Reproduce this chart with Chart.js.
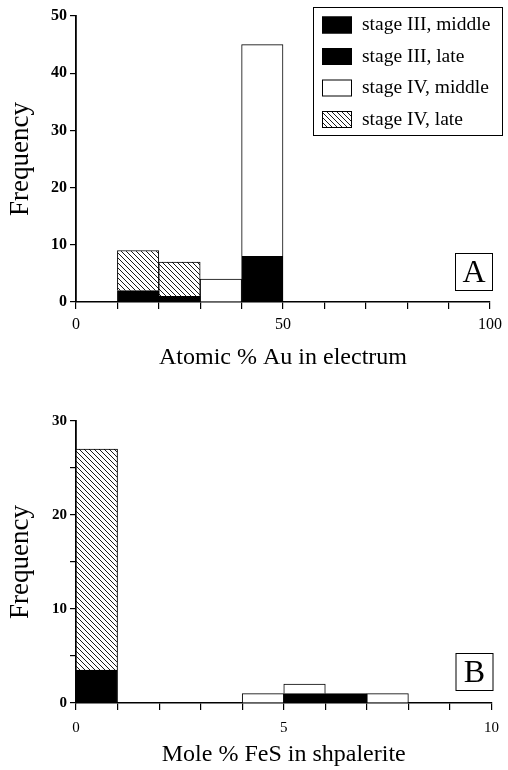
<!DOCTYPE html>
<html>
<head>
<meta charset="utf-8">
<script src="https://cdn.jsdelivr.net/npm/chart.js@4.4.1/dist/chart.umd.min.js"></script>
<style>
  html, body { margin: 0; padding: 0; background: #fff; }
  .panel { position: absolute; left: 0; width: 508px; height: 385px; }
  #panelA { top: 0; }
  #panelB { top: 385px; }
</style>
</head>
<body>
<div class="panel" id="panelA"><canvas id="chartA"></canvas></div>
<div class="panel" id="panelB"><canvas id="chartB"></canvas></div>
<script>
// Electrum: bin centres (10 at.% bins) and counts per stage
const auBins = [15, 25, 35, 45];
const auStage3Middle = [0, 0, 0, 8];
const auStage3Late = [2, 1, 0, 0];
const auStage4Middle = [0, 0, 4, 37];
const auStage4Late = [7, 6, 0, 0];

// Sphalerite: bin centres (1 mol.% bins) and counts per stage
const fesBins = [0.5, 4.5, 5.5, 6.5, 7.5];
const fesStage3Middle = [0, 0, 1, 1, 0];
const fesStage3Late = [3.5, 0, 0, 0, 0];
const fesStage4Middle = [0, 1, 1, 0, 1];
const fesStage4Late = [23.5, 0, 0, 0, 0];

const seriesLabels = ['stage III, middle', 'stage III, late', 'stage IV, middle', 'stage IV, late'];
const auTickLabels = [0, 50, 100];
const fesTickLabels = [0, 5, 10];
const auFreqLabels = [0, 10, 20, 30, 40, 50];
const fesFreqLabels = [0, 10, 20, 30];

Chart.defaults.font.family = '"Liberation Serif", "Times New Roman", serif';
Chart.defaults.color = '#000';

// diagonal hatch used for stage IV, late
function makeHatch() {
    const c = document.createElement('canvas');
    c.width = 5; c.height = 5;
    const g = c.getContext('2d');
    g.fillStyle = '#fff';
    g.fillRect(0, 0, 5, 5);
    g.strokeStyle = '#000';
    g.lineWidth = 0.9;
    g.beginPath();
    g.moveTo(-1, -1); g.lineTo(6, 6);
    g.moveTo(-1, 4); g.lineTo(1, 6);
    g.moveTo(4, -1); g.lineTo(6, 1);
    g.stroke();
    return g.createPattern(c, 'repeat');
}
const hatch = makeHatch();
const fills = ['#000', '#000', '#fff', hatch];

function toPoints(bins, values) {
    return bins.map((x, i) => ({ x: x, y: values[i] === 0 ? null : values[i] }));
}

function buildDatasets(bins, series) {
    return series.map((values, i) => ({
        label: seriesLabels[i],
        data: toPoints(bins, values),
        backgroundColor: fills[i],
        borderColor: '#000',
        borderWidth: 1,
        barPercentage: 1,
        categoryPercentage: 1
    }));
}

// boxed legend inside the plot
const boxLegend = {
    id: 'boxLegend',
    afterDatasetsDraw(chart, args, opts) {
        if (!opts.show) return;
        const ctx = chart.ctx;
        ctx.save();
        ctx.lineWidth = 1;
        ctx.strokeStyle = '#000';
        ctx.strokeRect(opts.left + 0.5, opts.top + 0.5, opts.width, opts.height);
        ctx.font = '19.5px "Liberation Serif"';
        ctx.textBaseline = 'middle';
        ctx.fillStyle = '#000';
        chart.data.datasets.forEach((ds, i) => {
            const y = opts.top + opts.firstRow + i * opts.rowGap;
            ctx.fillStyle = ds.backgroundColor;
            ctx.fillRect(opts.left + 9, y - 8.5, 30, 17);
            ctx.strokeRect(opts.left + 9.5, y - 8, 29, 16);
            ctx.fillStyle = '#000';
            ctx.fillText(ds.label, opts.left + 49, y);
        });
        ctx.restore();
    }
};

// boxed panel letter in the lower right corner
const panelTag = {
    id: 'panelTag',
    afterDatasetsDraw(chart, args, opts) {
        const a = chart.chartArea;
        const x = a.right + opts.dx - opts.size;
        const y = a.bottom + opts.dy - opts.size;
        const ctx = chart.ctx;
        ctx.save();
        ctx.fillStyle = '#fff';
        ctx.fillRect(x, y, opts.size, opts.size);
        ctx.strokeStyle = '#000';
        ctx.lineWidth = 1;
        ctx.strokeRect(x + 0.5, y + 0.5, opts.size, opts.size);
        ctx.fillStyle = '#000';
        ctx.font = '32px "Liberation Serif"';
        ctx.textAlign = 'center';
        ctx.textBaseline = 'middle';
        ctx.fillText(opts.text, x + opts.size / 2 + 0.5, y + opts.size / 2 + 2);
        ctx.restore();
    }
};

function makeChart(id, cfg) {
    return new Chart(document.getElementById(id), {
        type: 'bar',
        data: { datasets: cfg.datasets },
        plugins: [boxLegend, panelTag],
        options: {
            responsive: true,
            maintainAspectRatio: false,
            animation: false,
            layout: { padding: { top: cfg.top, right: 12, left: 0, bottom: 0 } },
            plugins: {
                legend: { display: false },
                tooltip: { enabled: false },
                boxLegend: cfg.legend,
                panelTag: cfg.tag
            },
            scales: {
                x: {
                    type: 'linear',
                    stacked: true,
                    offset: false,
                    min: 0,
                    max: cfg.xMax,
                    afterFit(scale) { scale.height = cfg.xHeight; },
                    grid: { offset: false, drawOnChartArea: false, drawTicks: true, tickLength: 7, color: '#000', lineWidth: 1.2 },
                    border: { display: true, color: '#000', width: 1.6 },
                    ticks: {
                        stepSize: cfg.xStep,
                        maxRotation: 0,
                        autoSkip: false,
                        padding: cfg.xPad,
                        font: { size: cfg.xFont },
                        callback: v => cfg.xLabels.includes(v) ? String(v) : ''
                    },
                    title: {
                        display: true,
                        text: cfg.xTitle,
                        font: { size: 24 },
                        padding: { top: 0, bottom: cfg.xTitlePad }
                    }
                },
                y: {
                    stacked: true,
                    min: 0,
                    max: cfg.yMax,
                    afterFit(scale) { scale.width = 76; },
                    grid: { drawOnChartArea: false, drawTicks: true, tickLength: 6, color: '#000', lineWidth: 1.2 },
                    border: { display: true, color: '#000', width: 1.8 },
                    ticks: {
                        stepSize: cfg.yStep,
                        autoSkip: false,
                        padding: 3,
                        font: { size: cfg.yFont, weight: 'bold' },
                        callback: v => cfg.yLabels.includes(v) ? String(v) : ''
                    },
                    title: {
                        display: true,
                        text: 'Frequency',
                        font: { size: 27 },
                        padding: { top: 5, bottom: 0 }
                    }
                }
            }
        }
    });
}

makeChart('chartA', {
    datasets: buildDatasets(auBins, [auStage3Middle, auStage3Late, auStage4Middle, auStage4Late]),
    top: 16, xMax: 100, xStep: 10, xLabels: auTickLabels, xFont: 16, xPad: 6,
    xHeight: 83, xTitle: 'Atomic % Au in electrum', xTitlePad: 13,
    yMax: 50, yStep: 10, yLabels: auFreqLabels, yFont: 16,
    legend: { show: true, left: 313, top: 7, width: 189, height: 128, firstRow: 18, rowGap: 31.5 },
    tag: { text: 'A', size: 37, dx: 2, dy: -12 }
});

makeChart('chartB', {
    datasets: buildDatasets(fesBins, [fesStage3Middle, fesStage3Late, fesStage4Middle, fesStage4Late]),
    top: 36, xMax: 10, xStep: 1, xLabels: fesTickLabels, xFont: 15, xPad: 9,
    xHeight: 67, xTitle: 'Mole % FeS in shpalerite', xTitlePad: 1,
    yMax: 30, yStep: 5, yLabels: fesFreqLabels, yFont: 15,
    legend: { show: false },
    tag: { text: 'B', size: 37, dx: 1, dy: -13 }
});
</script>
</body>
</html>
